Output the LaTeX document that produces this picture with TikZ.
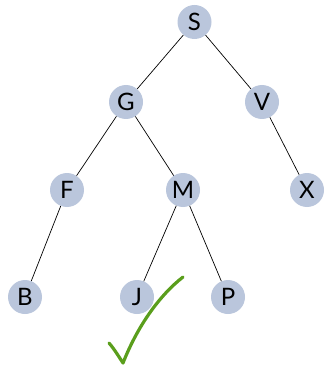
\documentclass[tikz,border=0pt]{standalone}
\usepackage{fontspec}
\setmainfont{Lato}
\definecolor{nodefill}{HTML}{BAC6DC}
\definecolor{checkgreen}{HTML}{5A9E1C}
\begin{document}
\begin{tikzpicture}[x=1pt,y=-1pt,
  tn/.style={circle,fill=nodefill,minimum size=34pt,inner sep=0pt,font=\fontsize{24}{26}\selectfont},
  edge/.style={draw=black,line width=0.7pt}]
\useasboundingbox (0,0) rectangle (324,366);
\node[tn] (S) at (194.5,22) {S};
\node[tn] (G) at (126,102) {G};
\node[tn] (V) at (262,102) {V};
\node[tn] (F) at (67,190) {F};
\node[tn] (M) at (183,190) {M};
\node[tn] (X) at (307,190) {X};
\node[tn] (B) at (25,297) {B};
\node[tn] (J) at (137,297) {J};
\node[tn] (P) at (228,297) {P};
\draw[edge] (S) -- (G);
\draw[edge] (S) -- (V);
\draw[edge] (G) -- (F);
\draw[edge] (G) -- (M);
\draw[edge] (V) -- (X);
\draw[edge] (F) -- (B);
\draw[edge] (M) -- (J);
\draw[edge] (M) -- (P);
\coordinate (c1) at (109,343);
\coordinate (c2) at (123,363);
\coordinate (c3) at (183,277);
\draw[checkgreen,line width=3.2pt,line cap=round,line join=round]
  (c1) .. controls (115,350) and (119,357) .. (c2)
  .. controls (138,325) and (160,295) .. (c3);
\end{tikzpicture}
\end{document}
